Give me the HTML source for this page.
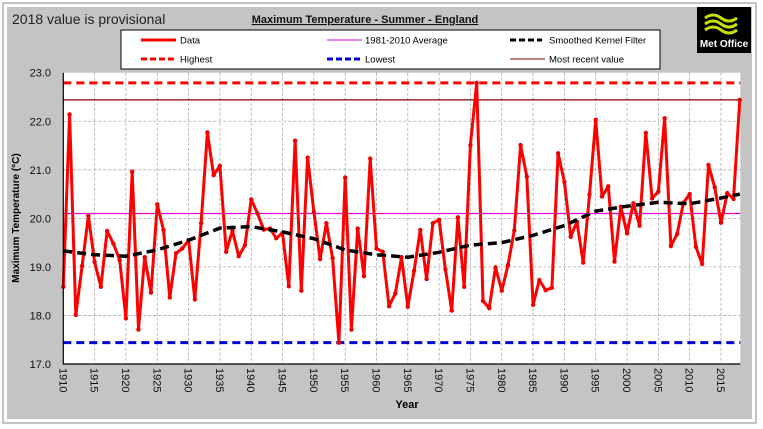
<!DOCTYPE html>
<html><head><meta charset="utf-8"><style>
html,body{margin:0;padding:0;background:#fff;}
#wrap{position:relative;width:763px;height:429px;overflow:hidden;font-family:"Liberation Sans",sans-serif;}
</style></head><body>
<div id="wrap">
<svg id="chart" width="763" height="429" xmlns="http://www.w3.org/2000/svg">
<rect x="3" y="3" width="753" height="420" fill="#fff" stroke="#888" stroke-width="1"/>
<rect x="7" y="7" width="745" height="412" fill="#c4c4c4"/>
<text x="12" y="24" font-size="14" fill="#222">2018 value is provisional</text>
<text x="365" y="23" font-size="11" font-weight="bold" text-anchor="middle" text-decoration="underline" fill="#111">Maximum Temperature - Summer - England</text>
<g>
<rect x="697" y="7" width="54" height="46" fill="#000"/>
<path d="M705 18 q8 -6 16 0 t16 0 M705 24 q8 -6 16 0 t16 0 M705 30 q8 -6 16 0 t16 0" stroke="#c8e000" stroke-width="3" fill="none"/>
<text x="724" y="47" font-size="10" font-weight="bold" fill="#fff" text-anchor="middle">Met Office</text>
</g>
<g>
<rect x="121" y="30" width="539" height="39" fill="#fff" stroke="#000" stroke-width="1"/>
<g><line x1="141" y1="40" x2="176" y2="40" stroke="#f00" stroke-width="3"/><text x="180" y="43.5" font-size="9.5">Data</text></g>
<g><line x1="327" y1="40" x2="362" y2="40" stroke="#e000e0" stroke-width="1"/><text x="365" y="43.5" font-size="9.5">1981-2010 Average</text></g>
<g><line x1="510" y1="40" x2="542" y2="40" stroke="#000" stroke-width="3" stroke-dasharray="6,3"/><text x="549" y="43.5" font-size="9.5">Smoothed Kernel Filter</text></g>
<g><line x1="141" y1="59" x2="176" y2="59" stroke="#f00" stroke-width="3" stroke-dasharray="6,3"/><text x="180" y="62.5" font-size="9.5">Highest</text></g>
<g><line x1="327" y1="59" x2="362" y2="59" stroke="#00c" stroke-width="3" stroke-dasharray="6,3"/><text x="365" y="62.5" font-size="9.5">Lowest</text></g>
<g><line x1="510" y1="59" x2="545" y2="59" stroke="#800" stroke-width="1"/><text x="549" y="62.5" font-size="9.5">Most recent value</text></g>
</g>
<rect x="63.3" y="72.7" width="677" height="291.3" fill="#fff"/>
<g id="grid"></g>
<g id="refs"></g>
<g id="series"></g>
<g id="axes"></g>
<text x="407" y="408" font-size="11" font-weight="bold" text-anchor="middle">Year</text>
<text transform="translate(19,218) rotate(-90)" font-size="10" font-weight="bold" text-anchor="middle">Maximum Temperature (°C)</text>
</svg>
</div>
<script>
const startYear = 1910;
const values = [18.59,22.14,18.01,19.02,20.05,19.10,18.59,19.74,19.48,19.14,17.94,20.96,17.71,19.20,18.47,20.29,19.76,18.37,19.28,19.38,19.55,18.33,19.90,21.77,20.89,21.08,19.31,19.75,19.22,19.45,20.39,20.10,19.77,19.79,19.59,19.70,18.60,21.60,18.51,21.25,20.13,19.16,19.90,19.18,17.44,20.84,17.71,19.79,18.81,21.23,19.38,19.31,18.19,18.45,19.20,18.18,18.92,19.76,18.75,19.90,19.97,18.95,18.10,20.02,18.59,21.51,22.79,18.30,18.15,18.99,18.51,19.04,19.75,21.51,20.86,18.22,18.73,18.52,18.57,21.34,20.75,19.62,19.93,19.09,20.49,22.03,20.45,20.66,19.11,20.24,19.69,20.31,19.85,21.76,20.41,20.55,22.06,19.43,19.68,20.32,20.50,19.41,19.06,21.10,20.64,19.91,20.52,20.40,22.44];
const smoothYears = [1910,1915,1920,1925,1930,1935,1940,1945,1950,1955,1960,1965,1970,1975,1980,1985,1990,1995,2000,2005,2010,2015,2018];
const smoothValues = [19.33,19.25,19.22,19.35,19.55,19.80,19.83,19.72,19.58,19.35,19.25,19.20,19.30,19.45,19.50,19.65,19.85,20.15,20.25,20.33,20.30,20.42,20.50];
const yTicks = [17.0,18.0,19.0,20.0,21.0,22.0,23.0];
const xTicks = [1910,1915,1920,1925,1930,1935,1940,1945,1950,1955,1960,1965,1970,1975,1980,1985,1990,1995,2000,2005,2010,2015];
const average = 20.10, highest = 22.79, lowest = 17.44, mostRecent = 22.44;

const NS = "http://www.w3.org/2000/svg";
const X0 = 63.3, X1 = 740.3, Y0 = 364, Y1 = 72.7;
const xs = y => X0 + (y - 1910) * (721 - 63.3) / 105;
const ys = v => Y0 - (v - 17) * (Y0 - Y1) / 6;
function mk(tag, attrs, parent){ const e = document.createElementNS(NS, tag); for (const k in attrs) e.setAttribute(k, attrs[k]); parent.appendChild(e); return e; }
const grid = document.getElementById('grid'), refs = document.getElementById('refs'), series = document.getElementById('series'), axes = document.getElementById('axes');

yTicks.forEach(v => {
  if (v > 17 && v < 23) {
    const l = mk('line', {x1:X0, x2:X1, y1:ys(v), y2:ys(v), stroke:'#aaa', 'stroke-width':0.8, 'stroke-dasharray':'3,2'}, grid);
    
    
  }
  const t = mk('text', {x:51, y:ys(v)+4, 'font-size':11, 'text-anchor':'end', fill:'#111'}, axes);
  t.textContent = v.toFixed(1);
  
  
});
xTicks.forEach(yr => {
  const x = xs(yr);
  if (yr > 1910) {
    const l = mk('line', {x1:x, x2:x, y1:Y1, y2:Y0, stroke:'#aaa', 'stroke-width':0.8, 'stroke-dasharray':'3,2'}, grid);
    
    
  }
  const t = mk('text', {transform:`translate(${x-4},368) rotate(90)`, 'font-size':11, fill:'#111'}, axes);
  t.textContent = yr;
  
  
});
const ax = mk('path', {d:`M${X0} ${Y1} V${Y0} H${X1}`, stroke:'#000', 'stroke-width':1.2, fill:'none'}, axes);



function hline(v, color, w, dash, name){
  const l = mk('line', {x1:X0, x2:X1, y1:ys(v), y2:ys(v), stroke:color, 'stroke-width':w}, refs);
  if (dash) l.setAttribute('stroke-dasharray', dash);
  
  
}
hline(average, '#e000e0', 1.2, null, 'average-line');
hline(mostRecent, '#800000', 1.2, null, 'most-recent-line');
hline(highest, '#f00', 3, '8,5', 'highest-line');
hline(lowest, '#0000d0', 3, '8,5', 'lowest-line');

const dp = values.map((v,i) => (i?'L':'M') + xs(startYear+i).toFixed(1) + ' ' + ys(v).toFixed(1)).join(' ');
const dl = mk('path', {d:dp, stroke:'#f00', 'stroke-width':3, fill:'none', 'stroke-linejoin':'round'}, series);


values.forEach((v,i) => {
  const c = mk('circle', {cx:xs(startYear+i), cy:ys(v), r:2.2, fill:'#e00'}, series);
  
  
});
const sp = smoothValues.map((v,i) => (i?'L':'M') + xs(smoothYears[i]).toFixed(1) + ' ' + ys(v).toFixed(1)).join(' ');
const sl = mk('path', {d:sp, stroke:'#000', 'stroke-width':3.5, fill:'none', 'stroke-dasharray':'9,5'}, series);


</script>
</body></html>
